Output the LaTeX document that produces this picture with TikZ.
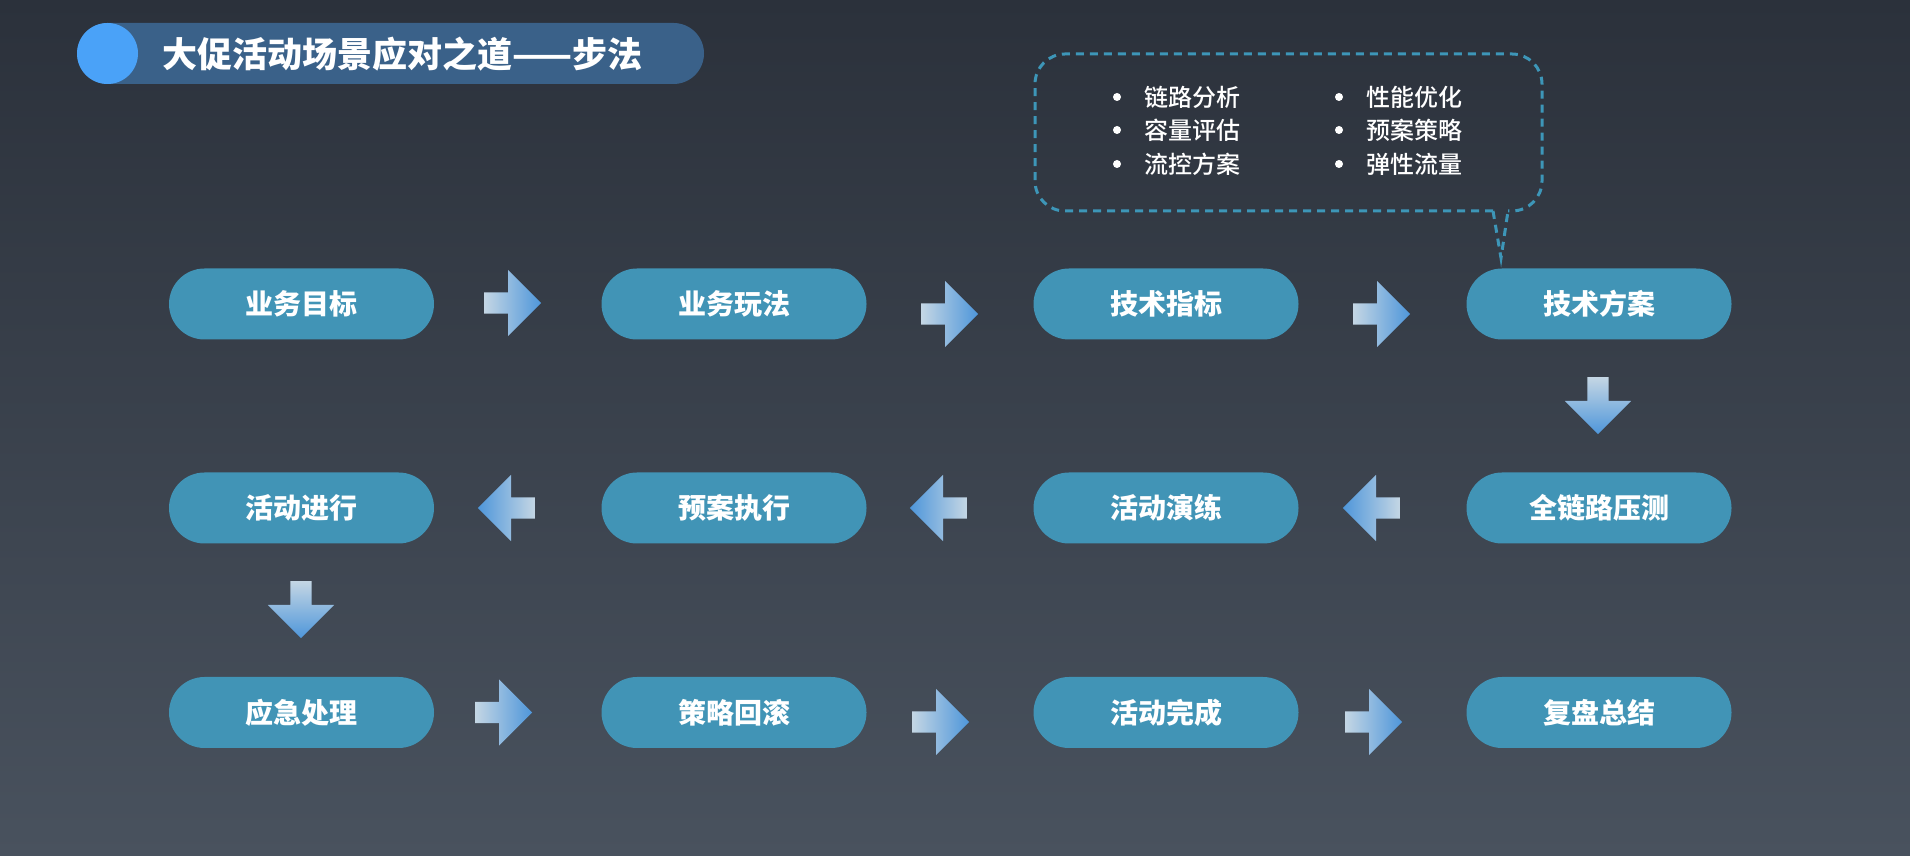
\documentclass[tikz,border=0pt]{standalone}
\usepackage{fontspec}
\setmainfont{Noto Sans CJK SC}
\newfontfamily\medfont{Noto Sans CJK SC}[UprightFont={* Medium}]
\usetikzlibrary{shapes.arrows}

\definecolor{bgTop}{RGB}{43,49,59}
\definecolor{bgBottom}{RGB}{73,82,94}
\definecolor{stageColor}{RGB}{65,148,182}
\definecolor{arrowLight}{RGB}{196,214,228}
\definecolor{arrowBlue}{RGB}{78,150,218}
\definecolor{barColor}{RGB}{58,97,137}
\definecolor{dotColor}{RGB}{74,162,248}
\definecolor{dashColor}{RGB}{61,150,184}

\tikzset{
  stage/.style={fill=stageColor,rounded corners=35.5pt,minimum width=265pt,minimum height=71pt,
    inner sep=0pt,text=white,font=\bfseries\fontsize{28}{32}\selectfont},
  blockarrow/.style={single arrow,single arrow head extend=22.5pt,minimum height=57pt,minimum width=0pt,
    text height=0pt,text depth=0pt,anchor=tail},
  toright/.style={blockarrow,inner xsep=0pt,inner ysep=10.5pt,left color=arrowLight,right color=arrowBlue},
  toleft/.style={blockarrow,inner xsep=0pt,inner ysep=10.5pt,shape border rotate=180,left color=arrowBlue,right color=arrowLight},
  todown/.style={blockarrow,inner xsep=10.5pt,inner ysep=0pt,shape border rotate=270,top color=arrowLight,bottom color=arrowBlue},
  item/.style={anchor=west,inner sep=0pt,text=white,font=\medfont\fontsize{24}{28}\selectfont},
}

\begin{document}
\begin{tikzpicture}[x=1pt,y=1pt]
\useasboundingbox (0,0) rectangle (1910,856);
\shade[top color=bgTop,bottom color=bgBottom] (0,0) rectangle (1910,856);

% title
\path[fill=barColor,rounded corners=30.5pt] (77,772) rectangle (704,833);
\path[fill=dotColor] (107.5,802.5) circle (30.5);
\node[anchor=west,inner sep=0pt,text=white,font=\bfseries\fontsize{35}{39}\selectfont] (title) at (162,802) {大促活动场景应对之道——步法};

% callout
\draw[dashColor,line width=3pt,dash pattern=on 8pt off 6pt,rounded corners=30pt]
  (1493,645) -| (1035,802) -| (1542,645) -- (1508,645);
\draw[dashColor,line width=3pt,dash pattern=on 8pt off 6pt] (1493,645) -- (1501,598) -- (1508,645);
\foreach \y in {759,726,692} {
  \fill[white] (1117,\y) circle (4);
  \fill[white] (1339,\y) circle (4);
}
\node[item] (link)   at (1144,759) {链路分析};
\node[item] (cap)    at (1144,726) {容量评估};
\node[item] (flow)   at (1144,692) {流控方案};
\node[item] (perf)   at (1366,759) {性能优化};
\node[item] (plan)   at (1366,726) {预案策略};
\node[item] (elast)  at (1366,692) {弹性流量};

% stages
\node[stage] (goal)     at (301.5,552) {业务目标};
\node[stage] (play)     at (734,552)   {业务玩法};
\node[stage] (metric)   at (1166,552)  {技术指标};
\node[stage] (scheme)   at (1599,552)  {技术方案};
\node[stage] (run)      at (301.5,348) {活动进行};
\node[stage] (exec)     at (734,348)   {预案执行};
\node[stage] (drill)    at (1166,348)  {活动演练};
\node[stage] (stress)   at (1599,348)  {全链路压测};
\node[stage] (emerg)    at (301.5,143.5) {应急处理};
\node[stage] (rollback) at (734,143.5)   {策略回滚};
\node[stage] (done)     at (1166,143.5)  {活动完成};
\node[stage] (review)   at (1599,143.5)  {复盘总结};

% block arrows (placed by their tails)
\node[toright] (a1) at (484,553) {};
\node[toright] (a2) at (921,542) {};
\node[toright] (a3) at (1353,542) {};
\node[todown]  (a4) at (1598,479) {};
\node[toleft]  (a5) at (1400,348) {};
\node[toleft]  (a6) at (967,348) {};
\node[toleft]  (a7) at (535,348) {};
\node[todown]  (a8) at (301,275) {};
\node[toright] (a9) at (475,143.5) {};
\node[toright] (a10) at (912,134) {};
\node[toright] (a11) at (1345,134) {};
\end{tikzpicture}
\end{document}
